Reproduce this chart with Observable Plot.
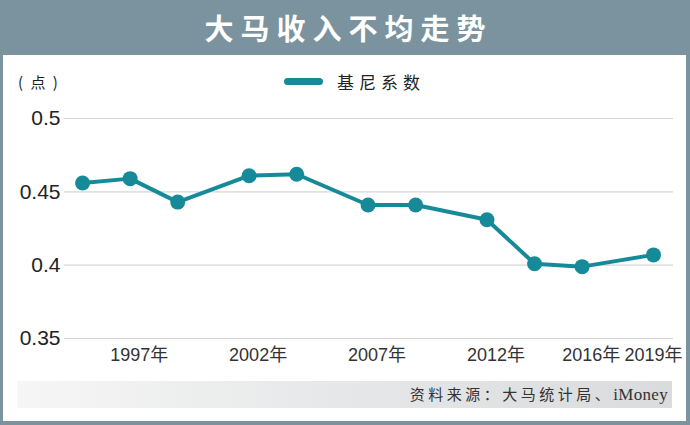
<!DOCTYPE html>
<html>
<head>
<meta charset="utf-8">
<script src="https://cdn.jsdelivr.net/npm/d3@7"></script>
<script src="https://cdn.jsdelivr.net/npm/@observablehq/plot@0.6"></script>
<style>
  html, body { margin: 0; padding: 0; background: #7b939e; }
  #page { position: relative; width: 690px; height: 425px; background: #7b939e; overflow: hidden; font-family: "Liberation Sans", Arial, "Noto Sans CJK SC", sans-serif; }
  #title { position: absolute; left: 0; top: 0; width: 690px; height: 54px; line-height: 54px; text-align: center; color: #fff; font-family: "Noto Sans CJK SC", sans-serif; font-weight: 700; font-size: 29px; letter-spacing: 7px; text-indent: 7px; }
  #panel { position: absolute; left: 3px; top: 55px; width: 683px; height: 366px; background: #fff; }
  #unit { position: absolute; left: 15px; top: 16px; font-family: "Noto Sans CJK SC", sans-serif; font-size: 15px; color: #222; letter-spacing: 2px; }
  #legend { position: absolute; left: 281px; top: 13px; height: 26px; display: flex; align-items: center; }
  #legend .sw { width: 39px; height: 7px; border-radius: 4px; background: #178a9a; margin-right: 14px; }
  #legend .lb { font-family: "Noto Sans CJK SC", sans-serif; font-size: 17px; letter-spacing: 5px; color: #222; }
  #source { position: absolute; left: 14px; top: 326px; width: 655px; height: 27px; background: linear-gradient(to right, #f6f6f6 0%, #e6e7e8 50%, #d9dbdd 100%); }
  #source .txt { position: absolute; right: 4px; top: 2px; font-family: "Liberation Serif", "Noto Sans CJK SC", serif; font-size: 15px; color: #333; white-space: nowrap; }
  #source .cjk { letter-spacing: 3.5px; }
  #source .lat { font-size: 17px; letter-spacing: 0.3px; }
  #chart { position: absolute; left: 0; top: 0; }
</style>
</head>
<body>
<div id="page">
  <div id="title">大马收入不均走势</div>
  <div id="panel">
    <div id="source"><span class="txt"><span class="cjk">资料来源：大马统计局、</span><span class="lat">iMoney</span></span></div>
    <div id="chart"></div>
    <div id="unit">( 点 )</div>
    <div id="legend"><div class="sw"></div><div class="lb">基尼系数</div></div>
  </div>
</div>
<script>
const years = [1995, 1997, 1999, 2002, 2004, 2007, 2009, 2012, 2014, 2016, 2019];
const gini  = [0.456, 0.459, 0.443, 0.461, 0.462, 0.441, 0.441, 0.431, 0.401, 0.399, 0.407];
const yTicks = [0.35, 0.4, 0.45, 0.5];
const xTicks = [1997, 2002, 2007, 2012, 2016];
const xTickLast = [2019];
const seriesName = "基尼系数";

const data = years.map((y, i) => ({year: y, value: gini[i], series: seriesName}));
const color = "#178a9a";
const fmtY = d => String(+d.toFixed(2));
const fmtX = d => d + "年";

const chart = Plot.plot({
  width: 683,
  height: 366,
  marginTop: 63,
  marginBottom: 83,
  marginLeft: 61,
  marginRight: 13,
  style: {background: "transparent", fontFamily: "'Liberation Sans', Arial, 'Noto Sans CJK SC', sans-serif", overflow: "visible"},
  x: {domain: [1994.24, 2019.84], axis: null},
  y: {domain: [0.35, 0.5], axis: null},
  marks: [
    Plot.ruleY(yTicks, {stroke: "#d6d6d6", strokeWidth: 1.2}),
    Plot.axisY(yTicks, {tickSize: 0, tickPadding: 4, tickFormat: fmtY, fontSize: 21, fill: "#222", label: null}),
    Plot.axisX(xTicks, {tickSize: 0, tickPadding: 10, tickFormat: fmtX, fontSize: 18, fill: "#333", textAnchor: "start", dx: -20, label: null}),
    Plot.axisX(xTickLast, {tickSize: 0, tickPadding: 10, tickFormat: fmtX, fontSize: 18, fill: "#333", textAnchor: "end", dx: 29, label: null}),
    Plot.line(data, {x: "year", y: "value", stroke: color, strokeWidth: 4, curve: "linear"}),
    Plot.dot(data, {x: "year", y: "value", r: 7.5, fill: color, stroke: "none"})
  ]
});
document.getElementById("chart").appendChild(chart);
</script>
</body>
</html>
